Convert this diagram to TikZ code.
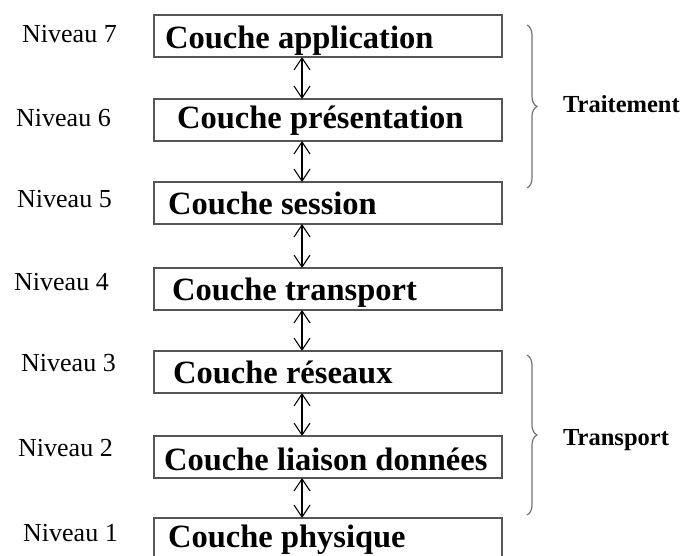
\documentclass[tikz,border=0pt]{standalone}
\usepackage{fontspec}
\setmainfont{Liberation Serif}
\usetikzlibrary{arrows.meta,decorations.pathreplacing}

\definecolor{boxline}{RGB}{85,85,85}
\definecolor{braceline}{RGB}{115,115,115}

\tikzset{
  layer/.style={draw=boxline, line width=1.5pt, rectangle, anchor=north west,
    minimum width=348pt, minimum height=42pt, inner sep=0pt, outer sep=0pt},
  layertext/.style={anchor=base west, inner sep=0pt,
    font=\fontsize{32.5}{36}\selectfont\bfseries},
  level/.style={anchor=base west, inner sep=0pt,
    font=\fontsize{26}{30}\selectfont},
  grouptext/.style={anchor=base west, inner sep=0pt,
    font=\fontsize{24.5}{28}\selectfont\bfseries},
  biarrow/.style={line width=1.1pt,
    {Straight Barb[length=12pt,width=16pt]}-{Straight Barb[length=12pt,width=16pt]}},
  groupbrace/.style={draw=braceline, line width=1.2pt, decorate,
    decoration={brace, amplitude=10pt}}
}

\begin{document}
\begin{tikzpicture}[x=1pt, y=-1pt]
\useasboundingbox (0,0) rectangle (686,556);
\clip (0,0) rectangle (686,556);
\fill[white] (0,0) rectangle (686,556);

% the seven layers
\node[layer] (b7) at (154,15)  {};
\node[layer] (b6) at (154,99)  {};
\node[layer] (b5) at (154,182) {};
\node[layer] (b4) at (154,268) {};
\node[layer] (b3) at (154,351) {};
\node[layer] (b2) at (154,436) {};
\node[layer] (b1) at (154,518) {};

\node[layertext] (t7) at (165,49)  {Couche application};
\node[layertext] (t6) at (177,129) {Couche présentation};
\node[layertext] (t5) at (168,215) {Couche session};
\node[layertext] (t4) at (172,301) {Couche transport};
\node[layertext] (t3) at (173,383) {Couche réseaux};
\node[layertext] (t2) at (164,470) {Couche liaison données};
\node[layertext] (t1) at (168,547) {Couche physique};

% level numbers
\node[level] (n7) at (22,43)  {Niveau 7};
\node[level] (n6) at (16,127) {Niveau 6};
\node[level] (n5) at (17,208) {Niveau 5};
\node[level] (n4) at (14,291) {Niveau 4};
\node[level] (n3) at (21,371) {Niveau 3};
\node[level] (n2) at (18,456) {Niveau 2};
\node[level] (n1) at (23,541) {Niveau 1};

% exchanges between neighbouring layers
\foreach \a/\b in {b7/b6, b6/b5, b5/b4, b4/b3, b3/b2, b2/b1}
  \draw[biarrow] ([xshift=-26pt]\a.south) -- ([xshift=-26pt]\b.north);

% groups
\coordinate (g1top) at (527,25);
\coordinate (g1bot) at (527,188);
\coordinate (g2top) at (527,355);
\coordinate (g2bot) at (527,515);
\draw[groupbrace] (g1top) -- (g1bot);
\draw[groupbrace] (g2top) -- (g2bot);
\node[grouptext] (traitement) at (563,113) {Traitement};
\node[grouptext] (transport) at (563,445) {Transport};
\end{tikzpicture}
\end{document}
